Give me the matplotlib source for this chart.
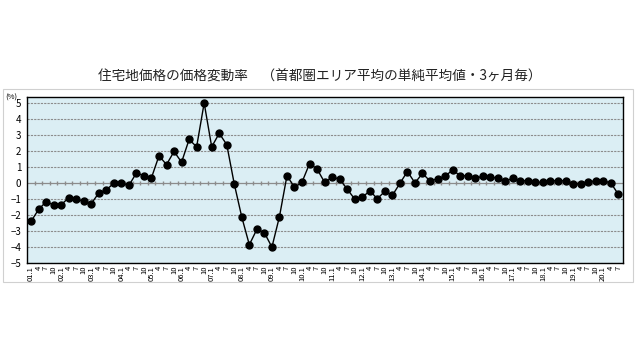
import numpy as np
import matplotlib.pyplot as plt
from matplotlib.patches import Rectangle

plt.rcParams['font.family'] = ['Noto Sans CJK JP', 'DejaVu Sans']

# quarterly change rate (%), 2001.1 - 2020.7
years = ['01', '02', '03', '04', '05', '06', '07', '08', '09', '10',
         '11', '12', '13', '14', '15', '16', '17', '18', '19', '20']
months = ['1', '4', '7', '10']
rate = [-2.4, -1.65, -1.17, -1.36, -1.36, -0.92, -0.98, -1.15, -1.28, -0.63,
        -0.42, -0.02, 0.02, -0.15, 0.63, 0.46, 0.33, 1.7, 1.15, 1.97,
        1.3, 2.72, 2.26, 5.0, 2.26, 3.1, 2.4, -0.06, -2.13, -3.85,
        -2.89, -3.1, -4.0, -2.1, 0.46, -0.27, 0.06, 1.21, 0.88, 0.04,
        0.36, 0.25, -0.38, -1.0, -0.9, -0.48, -0.98, -0.52, -0.77, -0.02,
        0.72, 0.01, 0.6, 0.13, 0.27, 0.42, 0.82, 0.46, 0.46, 0.29,
        0.42, 0.4, 0.29, 0.13, 0.29, 0.15, 0.15, 0.04, 0.04, 0.15,
        0.15, 0.15, -0.04, -0.04, 0.08, 0.13, 0.13, 0.02, -0.69]

labels = []
for y in years:
    for m in months:
        labels.append(y + '.' + m if m == '1' else m)
labels = labels[:len(rate)]
x = np.arange(len(rate))

fig = plt.figure(figsize=(6.4, 3.6), dpi=100)
fig.patches.append(Rectangle((0.004, 0.217), 0.985, 0.536, transform=fig.transFigure,
                             fill=False, edgecolor='#d0d0d0', linewidth=0.8))

ax = fig.add_axes([0.042, 0.269, 0.931, 0.462])
ax.set_facecolor('#dbeef4')

for v in range(-5, 6):
    if v != 0:
        ax.axhline(v, color='#8c8c8c', linewidth=0.8, linestyle=(0, (2, 1)), zorder=1)
ax.axhline(0, color='#8c8c8c', linewidth=0.9, zorder=1)
ax.plot(x[:-1] + 0.5, np.zeros(len(x) - 1), linestyle='none', marker='|',
        markersize=3, color='#8c8c8c', zorder=1)

ax.plot(x, rate, color='black', linewidth=1, marker='o', markersize=5, zorder=3)

ax.set_xlim(-0.55, len(rate) - 0.4)
ax.set_ylim(-5, 5.38)
ax.set_yticks(range(-5, 6))
ax.tick_params(axis='y', labelsize=7, length=0, pad=4)
ax.set_xticks(x)
ax.set_xticklabels(labels, rotation=90, fontsize=5.5)
ax.tick_params(axis='x', length=0, pad=2)
for s in ax.spines.values():
    s.set_color('black')
    s.set_linewidth(1)

fig.text(0.5, 0.786, '住宅地価格の価格変動率　（首都圏エリア平均の単純平均値・3ヶ月毎）',
         ha='center', va='center', fontsize=9.8, color='#222222')
fig.text(0.018, 0.728, '(%)', ha='center', va='center', fontsize=5.5)

fig.savefig('out.png', dpi=100)
